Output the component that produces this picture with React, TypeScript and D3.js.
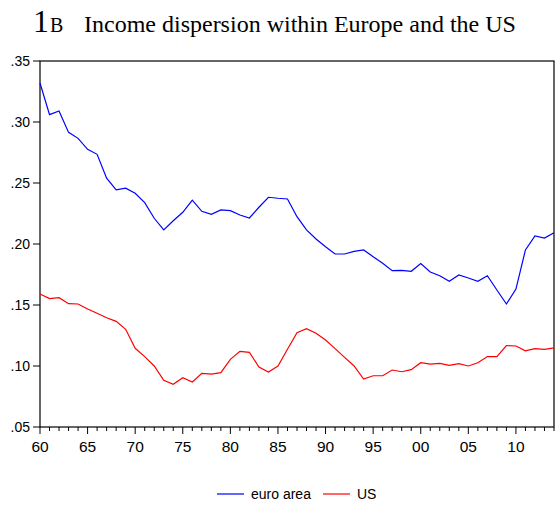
import React from "react";
import * as d3 from "d3";

const years: number[] = d3.range(1960, 2015);

const euroArea: number[] = [
  0.332, 0.306, 0.309, 0.2915, 0.2866, 0.2776, 0.2735, 0.2539, 0.2443, 0.2457,
  0.2416, 0.2339, 0.2211, 0.2115, 0.2191, 0.226, 0.236, 0.2268, 0.2243, 0.2279,
  0.2273, 0.2238, 0.2213, 0.2301, 0.2383, 0.2375, 0.2369, 0.2224, 0.2115, 0.2041,
  0.1978, 0.1918, 0.1918, 0.194, 0.1951, 0.1896, 0.1842, 0.1781, 0.1784, 0.1776,
  0.1839, 0.177, 0.174, 0.1694, 0.1746, 0.1721, 0.1694, 0.174, 0.1623, 0.1508,
  0.1631, 0.1951, 0.2066, 0.2049, 0.2093,
];

const us: number[] = [
  0.159, 0.1552, 0.156, 0.1511, 0.1508, 0.1467, 0.1432, 0.1396, 0.1366, 0.1301,
  0.1145, 0.1077, 0.1, 0.0883, 0.085, 0.0904, 0.0869, 0.094, 0.0934, 0.0945,
  0.1055, 0.112, 0.1112, 0.0992, 0.0951, 0.1, 0.1137, 0.1273, 0.1306, 0.1268,
  0.1213, 0.1142, 0.1071, 0.1, 0.0893, 0.092, 0.092, 0.0967, 0.0953, 0.097,
  0.1027, 0.1016, 0.1022, 0.1006, 0.1019, 0.1, 0.1027, 0.1077, 0.1077, 0.1167,
  0.1164, 0.1125, 0.1142, 0.1137, 0.1148,
];

const yTicks: number[] = [0.05, 0.1, 0.15, 0.2, 0.25, 0.3, 0.35];
const yTickLabels: string[] = [".05", ".10", ".15", ".20", ".25", ".30", ".35"];
const xMajor: number[] = [1960, 1965, 1970, 1975, 1980, 1985, 1990, 1995, 2000, 2005, 2010];
const xMajorLabels: string[] = ["60", "65", "70", "75", "80", "85", "90", "95", "00", "05", "10"];

const seriesNames: string[] = ["euro area", "US"];
const seriesColors: string[] = ["#0000ff", "#ff0000"];

const W = 560;
const H = 506;
const left = 40;
const right = 554;
const top = 61;
const bottom = 427;

export default function App() {
  const x = d3.scaleLinear().domain([1960, 2014]).range([left, right]);
  const y = d3.scaleLinear().domain([0.05, 0.35]).range([bottom, top]);
  const line = d3
    .line<number>()
    .x((_, i) => x(years[i]))
    .y((d) => y(d));

  const sans = "'Liberation Sans', Arial, sans-serif";
  const serif = "'Liberation Serif', 'Times New Roman', serif";

  return (
    <div style={{ position: "absolute", left: 0, top: 0 }}>
      <svg width={W} height={H} style={{ display: "block", background: "#fff" }}>
        <text x={33} y={31.5} fontFamily={serif} fill="#000">
          <tspan fontSize={32}>1</tspan>
          <tspan fontSize={20} dx={1}>B</tspan>
        </text>
        <text x={84} y={31.5} fontFamily={serif} fontSize={24} fill="#000">
          Income dispersion within Europe and the US
        </text>

        {/* frame */}
        <rect x={left} y={top} width={right - left} height={bottom - top} fill="none" stroke="#000" strokeWidth={1.2} />

        {/* y ticks */}
        {yTicks.map((t, i) => (
          <g key={"y" + i}>
            <line x1={left - 7} x2={left} y1={y(t)} y2={y(t)} stroke="#000" strokeWidth={1} />
            <text x={30} y={y(t)} dy="0.35em" textAnchor="end" fontFamily={sans} fontSize={14} fill="#000">
              {yTickLabels[i]}
            </text>
          </g>
        ))}

        {/* x ticks */}
        {years.map((yr) => (
          <line
            key={"xt" + yr}
            x1={x(yr)}
            x2={x(yr)}
            y1={bottom}
            y2={bottom + (yr % 5 === 0 ? 7 : 4)}
            stroke="#000"
            strokeWidth={1}
          />
        ))}
        {xMajor.map((yr, i) => (
          <text key={"xl" + yr} x={x(yr)} y={452} textAnchor="middle" fontFamily={sans} fontSize={15.5} fill="#000">
            {xMajorLabels[i]}
          </text>
        ))}

        {/* lines */}
        <path d={line(euroArea) || ""} fill="none" stroke={seriesColors[0]} strokeWidth={1.2} />
        <path d={line(us) || ""} fill="none" stroke={seriesColors[1]} strokeWidth={1.2} />

        {/* legend */}
        <line x1={217} x2={244} y1={494} y2={494} stroke={seriesColors[0]} strokeWidth={1.2} />
        <text x={251} y={494} dy="0.35em" fontFamily={sans} fontSize={14} fill="#000">
          {seriesNames[0]}
        </text>
        <line x1={323} x2={350} y1={494} y2={494} stroke={seriesColors[1]} strokeWidth={1.2} />
        <text x={357} y={494} dy="0.35em" fontFamily={sans} fontSize={14} fill="#000">
          {seriesNames[1]}
        </text>
      </svg>
    </div>
  );
}
